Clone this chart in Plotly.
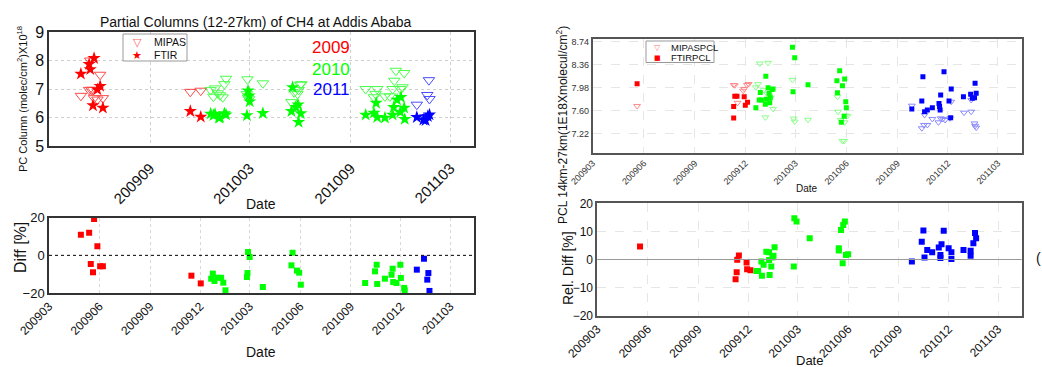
import plotly.graph_objects as go

# ---------------- data: top-left (PC column, 12-27 km) ----------------
mipas_2009_dates = ['2009-04-28', '2009-05-13', '2009-05-17', '2009-05-20', '2009-05-15', '2009-06-02',
                    '2009-05-22', '2009-05-28', '2009-06-07', '2009-11-13', '2009-12-02']
mipas_2009_vals = [6.76, 6.97, 6.97, 6.97, 8.0, 7.5, 6.68, 6.63, 6.68, 6.9, 6.94]
ftir_2009_dates = ['2009-04-28', '2009-05-13', '2009-05-22', '2009-05-15', '2009-06-02', '2009-05-28',
                   '2009-05-20', '2009-06-07', '2009-11-13', '2009-12-02']
ftir_2009_vals = [7.53, 7.87, 8.08, 7.69, 7.1, 6.98, 6.42, 6.34, 6.22, 6.02]

mipas_2010_dates = ['2009-12-20', '2009-12-28', '2010-01-02', '2009-12-25', '2010-01-06', '2010-01-11',
                    '2010-01-14', '2010-01-17', '2010-02-25', '2010-02-24', '2010-02-26', '2010-02-28',
                    '2010-03-25', '2010-05-16', '2010-05-21', '2010-05-27', '2010-06-01', '2010-06-03',
                    '2010-05-29', '2010-09-28', '2010-10-13', '2010-10-16', '2010-10-19', '2010-11-02',
                    '2010-11-11', '2010-11-16', '2010-11-19', '2010-11-22', '2010-12-07', '2010-11-30',
                    '2010-12-04']
mipas_2010_vals = [6.96, 7.02, 6.85, 6.73, 6.78, 6.71, 7.17, 7.36, 7.34, 6.82, 6.70, 6.64, 7.2,
                   6.54, 6.88, 6.83, 7.15, 7.17, 6.97, 7.0, 6.71, 6.83, 7.0, 6.74, 6.74, 7.0, 7.29,
                   7.64, 7.56, 7.0, 7.06]
ftir_2010_dates = ['2009-12-20', '2009-12-25', '2009-12-28', '2010-01-04', '2010-01-06', '2010-01-14',
                   '2010-01-17', '2010-02-24', '2010-02-26', '2010-02-28', '2010-03-01', '2010-03-25',
                   '2010-05-18', '2010-05-16', '2010-05-24', '2010-05-28', '2010-06-02', '2010-05-29',
                   '2010-09-28', '2010-10-13', '2010-10-17', '2010-10-19', '2010-11-02', '2010-11-16',
                   '2010-11-18', '2010-11-24', '2010-12-01', '2010-11-30', '2010-12-07', '2010-12-08']
ftir_2010_vals = [6.13, 6.08, 6.12, 5.99, 6.0, 6.14, 6.1, 6.07, 6.94, 6.77, 6.56, 6.15,
                  7.06, 6.22, 6.36, 6.45, 6.14, 5.84, 6.09, 6.16, 6.51, 6.01, 5.99, 6.09,
                  6.36, 6.62, 6.71, 6.19, 6.34, 5.94]

mipas_2011_dates = ['2010-12-30', '2011-01-21', '2011-01-18', '2011-01-22', '2011-01-14']
mipas_2011_vals = [6.45, 7.31, 6.79, 6.65, 6.01]
ftir_2011_dates = ['2010-12-30', '2011-01-11', '2011-01-15', '2011-01-19', '2011-01-22']
ftir_2011_vals = [6.01, 5.92, 5.9, 6.04, 6.1]

# ---------------- data: bottom-left (Diff %) ----------------
diff_2009_dates = ['2009-04-28', '2009-05-13', '2009-05-22', '2009-05-28', '2009-05-16', '2009-05-20',
                   '2009-06-02', '2009-06-07', '2009-11-15', '2009-12-02']
diff_2009_vals = [11.0, 12.0, 19.3, 4.8, -4.6, -9.0, -5.8, -5.8, -10.8, -14.9]
diff_2010_dates = ['2009-12-21', '2009-12-24', '2009-12-27', '2010-01-01', '2010-01-08', '2010-01-12',
                   '2010-01-16', '2010-02-26', '2010-03-01', '2010-02-25', '2010-02-24', '2010-03-25',
                   '2010-05-18', '2010-05-16', '2010-05-26', '2010-05-30', '2010-06-02',
                   '2010-09-27', '2010-10-15', '2010-10-18', '2010-10-19', '2010-11-02', '2010-11-14',
                   '2010-11-16', '2010-11-17', '2010-11-23', '2010-11-30', '2010-12-01', '2010-12-07',
                   '2010-12-08']
diff_2010_vals = [-12.4, -9.7, -13.6, -11.9, -11.9, -14.5, -18.6, 1.8, -0.9, -9.4, -11.5, -16.8,
                  1.4, -5.3, -8.1, -9.2, -15.6, -14.7, -8.5, -5.0, -15.2, -12.4, -10.3,
                  -7.1, -14.2, -14.7, -5.0, -12.0, -17.3, -18.6]
diff_2011_dates = ['2010-12-30', '2011-01-12', '2011-01-20', '2011-01-18', '2011-01-22']
diff_2011_vals = [-7.6, -1.8, -9.4, -12.9, -18.9]

# ---------------- data: top-right (PCL 14-27 km) ----------------
mipaspcl_red_dates = ['2009-05-20', '2009-11-10', '2009-11-12', '2009-11-27', '2009-11-29', '2009-12-04',
                      '2009-12-07', '2009-11-17']
mipaspcl_red_vals = [7.678, 8.025, 8.02, 7.93, 7.96, 8.025, 8.04, 7.73]
ftirpcl_red_dates = ['2009-05-20', '2009-11-12', '2009-11-16', '2009-11-29', '2009-11-10', '2009-12-01',
                     '2009-12-05', '2009-11-10']
ftirpcl_red_vals = [8.046, 7.84, 7.84, 7.83, 7.67, 7.69, 7.74, 7.48]

mipaspcl_green_dates = ['2009-12-20', '2009-12-24', '2009-12-27', '2010-01-11', '2010-01-06', '2010-01-20',
                        '2010-01-03', '2010-01-16', '2010-01-09', '2010-01-13', '2010-02-24', '2010-02-26',
                        '2010-02-28', '2010-03-24', '2010-05-16', '2010-05-17', '2010-05-22', '2010-06-03',
                        '2010-05-29', '2010-05-25', '2010-05-28', '2010-05-31']
mipaspcl_green_vals = [7.987, 8.04, 8.38, 8.39, 7.49, 7.63, 7.94, 7.815, 7.88, 7.85, 8.11, 7.47,
                       7.42, 7.45, 7.83, 7.584, 7.446, 7.513, 7.408, 7.10, 7.10, 7.52]
ftirpcl_green_dates = ['2010-01-07', '2010-01-11', '2010-01-20', '2009-12-28', '2010-01-13', '2009-12-26',
                       '2009-12-30', '2010-01-08', '2010-01-15', '2009-12-20', '2010-01-06', '2010-01-14',
                       '2010-01-18', '2010-02-24', '2010-02-28', '2010-02-25', '2010-03-24',
                       '2010-05-20', '2010-05-15', '2010-05-29', '2010-05-25', '2010-05-16', '2010-05-31',
                       '2010-06-01', '2010-05-28', '2010-05-23']
ftirpcl_green_vals = [8.17, 7.98, 7.96, 7.90, 7.888, 7.777, 7.777, 7.79, 7.815, 7.65, 7.706, 7.73,
                      7.95, 8.648, 8.476, 7.914, 8.03, 8.26, 8.096, 8.124, 8.013, 7.898, 7.749,
                      7.65, 7.508, 7.408]

mipaspcl_blue_dates = ['2010-09-27', '2010-10-15', '2010-10-19', '2010-10-25', '2010-10-20', '2010-11-03',
                       '2010-11-14', '2010-11-18', '2010-11-22', '2010-11-26', '2010-12-05', '2010-12-07',
                       '2010-12-30', '2011-01-12', '2011-01-12', '2011-01-18', '2011-01-19', '2011-01-21']
mipaspcl_blue_vals = [7.683, 7.31, 7.364, 7.364, 7.53, 7.463, 7.408, 7.474, 7.463, 7.446, 7.474, 7.749,
                      7.567, 7.584, 7.777, 7.39, 7.35, 7.32]
ftirpcl_blue_dates = ['2010-09-27', '2010-10-17', '2010-10-15', '2010-10-20', '2010-10-25', '2010-11-03',
                      '2010-11-15', '2010-11-16', '2010-11-17', '2010-11-18', '2010-11-24', '2010-12-03',
                      '2010-12-07', '2010-12-06', '2010-12-29', '2011-01-11', '2011-01-14', '2011-01-18',
                      '2011-01-19', '2011-01-21']
ftirpcl_blue_vals = [7.628, 8.162, 7.76, 7.584, 7.612, 7.65, 7.72, 7.67, 7.61, 7.86, 8.245, 7.76,
                     7.959, 7.484, 7.83, 7.87, 7.805, 7.815, 8.053, 7.888]

# ---------------- data: bottom-right (Rel. Diff %) ----------------
reldiff_red_dates = ['2009-05-18', '2009-11-14', '2009-11-11', '2009-11-28', '2009-11-29', '2009-12-05',
                     '2009-11-10', '2009-11-08']
reldiff_red_vals = [4.6, 1.4, -0.1, -1.1, -3.5, -3.8, -4.5, -7.0]
reldiff_green_dates = ['2009-12-16', '2009-12-19', '2009-12-25', '2009-12-26', '2009-12-29', '2010-01-03',
                       '2010-01-08', '2010-01-08', '2010-01-09', '2010-01-12', '2010-01-14', '2010-01-16',
                       '2010-01-18', '2010-02-22', '2010-02-23', '2010-02-27', '2010-03-23',
                       '2010-05-15', '2010-05-15', '2010-05-19', '2010-05-22', '2010-05-23', '2010-05-26',
                       '2010-05-28', '2010-06-01']
reldiff_green_vals = [-4.1, -4.1, -0.7, -5.8, -1.9, 2.8, 2.6, -0.2, -5.5, -2.5, 0.7, 1.3, 4.4,
                      -2.5, 14.7, 13.5, 7.6, 4.0, 3.2, 10.5, -1.3, 12.3, 13.5, 1.6, 1.9]
reldiff_blue_dates = ['2010-09-25', '2010-10-16', '2010-10-13', '2010-10-18', '2010-10-23', '2010-11-01',
                      '2010-11-13', '2010-11-18', '2010-11-16', '2010-11-16', '2010-11-22', '2010-12-01',
                      '2010-12-06', '2010-12-06', '2010-12-28', '2011-01-10', '2011-01-10', '2011-01-15',
                      '2011-01-18', '2011-01-20']
reldiff_blue_vals = [-0.7, 10.3, 6.3, 0.7, 3.4, 2.6, 4.3, 5.4, 1.6, 0.5, 10.2, 4.0, 2.6, 0.2, 3.4,
                     3.1, 1.3, 5.8, 9.4, 7.6]

# tick labels
left_top_ticks = ['2009-09-01', '2010-03-01', '2010-09-01', '2011-03-01']
left_top_ticktext = ['200909', '201003', '201009', '201103']
quarter_ticks = ['2009-03-01', '2009-06-01', '2009-09-01', '2009-12-01', '2010-03-01', '2010-06-01',
                 '2010-09-01', '2010-12-01', '2011-03-01']
quarter_ticktext = ['200903', '200906', '200909', '200912', '201003', '201006', '201009', '201012', '201103']
pcl_yticks = [7.22, 7.60, 7.98, 8.36, 8.74]
x_range = ['2009-03-01', '2011-04-13']

RED, GREEN, BLUE = '#FF0000', '#00FF00', '#0000FF'

fig = go.Figure()

# top-left
for dates, vals, col in [(mipas_2009_dates, mipas_2009_vals, RED),
                         (mipas_2010_dates, mipas_2010_vals, GREEN),
                         (mipas_2011_dates, mipas_2011_vals, BLUE)]:
    fig.add_trace(go.Scatter(x=dates, y=vals, mode='markers', name='MIPAS', xaxis='x', yaxis='y',
                             opacity=0.7,
                             marker=dict(symbol='triangle-down-open', size=10, color=col, line=dict(width=1))))
for dates, vals, col in [(ftir_2009_dates, ftir_2009_vals, RED),
                         (ftir_2010_dates, ftir_2010_vals, GREEN),
                         (ftir_2011_dates, ftir_2011_vals, BLUE)]:
    fig.add_trace(go.Scatter(x=dates, y=vals, mode='markers', name='FTIR', xaxis='x', yaxis='y',
                             marker=dict(symbol='star', size=10, color=col, line=dict(width=0))))

# bottom-left
for dates, vals, col in [(diff_2009_dates, diff_2009_vals, RED),
                         (diff_2010_dates, diff_2010_vals, GREEN),
                         (diff_2011_dates, diff_2011_vals, BLUE)]:
    fig.add_trace(go.Scatter(x=dates, y=vals, mode='markers', xaxis='x2', yaxis='y2',
                             marker=dict(symbol='square', size=6, color=col, line=dict(width=0))))

# top-right
for dates, vals, col in [(mipaspcl_red_dates, mipaspcl_red_vals, RED),
                         (mipaspcl_green_dates, mipaspcl_green_vals, GREEN),
                         (mipaspcl_blue_dates, mipaspcl_blue_vals, BLUE)]:
    fig.add_trace(go.Scatter(x=dates, y=vals, mode='markers', name='MIPASPCL', xaxis='x3', yaxis='y3',
                             opacity=0.45,
                             marker=dict(symbol='triangle-down-open', size=6, color=col, line=dict(width=1))))
for dates, vals, col in [(ftirpcl_red_dates, ftirpcl_red_vals, RED),
                         (ftirpcl_green_dates, ftirpcl_green_vals, GREEN),
                         (ftirpcl_blue_dates, ftirpcl_blue_vals, BLUE)]:
    fig.add_trace(go.Scatter(x=dates, y=vals, mode='markers', name='FTIRPCL', xaxis='x3', yaxis='y3',
                             marker=dict(symbol='square', size=5, color=col, line=dict(width=0))))

# bottom-right
for dates, vals, col in [(reldiff_red_dates, reldiff_red_vals, RED),
                         (reldiff_green_dates, reldiff_green_vals, GREEN),
                         (reldiff_blue_dates, reldiff_blue_vals, BLUE)]:
    fig.add_trace(go.Scatter(x=dates, y=vals, mode='markers', xaxis='x4', yaxis='y4',
                             marker=dict(symbol='square', size=6, color=col, line=dict(width=0))))

W, H = 1042, 367
def dx(a, b):
    return [a / W, b / W]
def dy(top, bottom):
    return [1 - bottom / H, 1 - top / H]

frame_l = dict(showline=True, mirror=True, linecolor='#333333', linewidth=1.5, ticks='', zeroline=False,
               automargin=False)
frame_r = dict(showline=True, mirror=True, linecolor='#555555', linewidth=1.5, ticks='', zeroline=False,
               automargin=False)
font_base = dict(family='Arial, Liberation Sans, sans-serif', color='#111111')

fig.update_layout(
    width=W, height=H, margin=dict(l=0, r=0, t=0, b=0, pad=0), showlegend=False,
    paper_bgcolor='white', plot_bgcolor='white', font=font_base,
    xaxis=dict(domain=dx(49, 474), anchor='y', type='date', range=x_range, tickvals=left_top_ticks,
               ticktext=left_top_ticktext, tickangle=-45, tickfont=dict(size=15), ticklabelstandoff=6,
               showgrid=True, gridcolor='#cfcfcf', griddash='dot', **frame_l),
    yaxis=dict(domain=dy(32, 146), anchor='x', range=[5, 9], tickvals=[5, 6, 7, 8, 9],
               tickfont=dict(size=16), showgrid=True, gridcolor='#cfcfcf', griddash='dot', **frame_l),
    xaxis2=dict(domain=dx(49, 474), anchor='y2', type='date', range=x_range, tickvals=quarter_ticks,
                ticktext=quarter_ticktext, tickangle=-45, tickfont=dict(size=12),
                showgrid=True, gridcolor='#d8d8d8', griddash='dot', **frame_l),
    yaxis2=dict(domain=dy(217.7, 293), anchor='x2', range=[-20, 20], tickvals=[-20, 0, 20],
                tickfont=dict(size=13), showgrid=False, **frame_l),
    xaxis3=dict(domain=dx(592.7, 1021.7), anchor='y3', type='date', range=x_range, tickvals=quarter_ticks,
                ticktext=quarter_ticktext, tickangle=-45, tickfont=dict(size=9, color='#333333'),
                showgrid=True, gridcolor='#e6e6e6', griddash='dash', **frame_r),
    yaxis3=dict(domain=dy(39.3, 152.7), anchor='x3', range=[6.906, 8.78], tickvals=pcl_yticks,
                ticktext=['%.2f' % v for v in pcl_yticks], tickfont=dict(size=9, color='#333333'),
                showgrid=True, gridcolor='#e6e6e6', griddash='dash', **frame_r),
    xaxis4=dict(domain=dx(597.2, 1021.7), anchor='y4', type='date', range=x_range, tickvals=quarter_ticks,
                ticktext=quarter_ticktext, tickangle=-45, tickfont=dict(size=12),
                showgrid=True, gridcolor='#e6e6e6', griddash='dash', **frame_r),
    yaxis4=dict(domain=dy(203.3, 315.7), anchor='x4', range=[-20, 20], tickvals=[-20, -10, 0, 10, 20],
                tickfont=dict(size=12), showgrid=True, gridcolor='#e6e6e6', griddash='dash', **frame_r),
)

# zero lines
fig.add_shape(type='line', xref='x2 domain', yref='y2', x0=0, x1=1, y0=0, y1=0,
              line=dict(color='black', width=1, dash='dot'))
fig.add_shape(type='line', xref='x4 domain', yref='y4', x0=0, x1=1, y0=0, y1=0,
              line=dict(color='#999999', width=1))

def ann(text, x, y, size, color='#111111', angle=0, xanchor='center', family=None):
    f = dict(size=size, color=color)
    if family:
        f['family'] = family
    fig.add_annotation(text=text, x=x / W, y=1 - y / H, xref='paper', yref='paper', showarrow=False,
                       font=f, textangle=angle, xanchor=xanchor, yanchor='middle')

# legend boxes (drawn as box + text keys)
def legend_box(x0, y0, x1, y1):
    fig.add_shape(type='rect', xref='paper', yref='paper', x0=x0 / W, x1=x1 / W, y0=1 - y1 / H,
                  y1=1 - y0 / H, line=dict(color='#999999', width=1), fillcolor='white', layer='above')

legend_box(123, 34, 187, 61)
ann('▽', 137, 42, 11, color='#ff6060', family='DejaVu Sans')
ann('★', 137, 55, 11, color=RED, family='DejaVu Sans')
ann('MIPAS', 152, 42, 10.5, xanchor='left')
ann('FTIR', 152, 55, 10.5, xanchor='left')

legend_box(646, 41, 714, 62.5)
ann('▽', 657, 47.5, 8, color='#ff8080', family='DejaVu Sans')
ann('■', 657, 57.5, 7, color=RED, family='DejaVu Sans')
ann('MIPASPCL', 669, 47.5, 9.5, xanchor='left')
ann('FTIRPCL', 669, 57.5, 9.5, xanchor='left')

ann('Partial Columns (12-27km) of CH4 at Addis Ababa', 255, 22, 14)
ann('PC Column (molec/cm<sup>2</sup>)X10<sup>18</sup>', 22, 99, 11, angle=-90)
ann('Date', 261, 204, 14)
ann('Diff [%]', 20, 248, 16, angle=-90)
ann('Date', 261, 352, 14)
ann('2009', 331, 48, 17, color=RED)
ann('2010', 331, 69, 17, color=GREEN)
ann('2011', 331, 89, 17, color=BLUE)
ann('PCL 14km-27km(1E18Xmolecul/cm<sup>2</sup>)', 562, 125, 12, angle=-90)
ann('Date', 807, 188, 10)
ann('Rel. Diff [%]', 568, 268, 14, angle=-90)
ann('Date', 809, 360, 13)
ann('(', 1034, 258, 14, xanchor='left')

fig.write_html('out.html')
